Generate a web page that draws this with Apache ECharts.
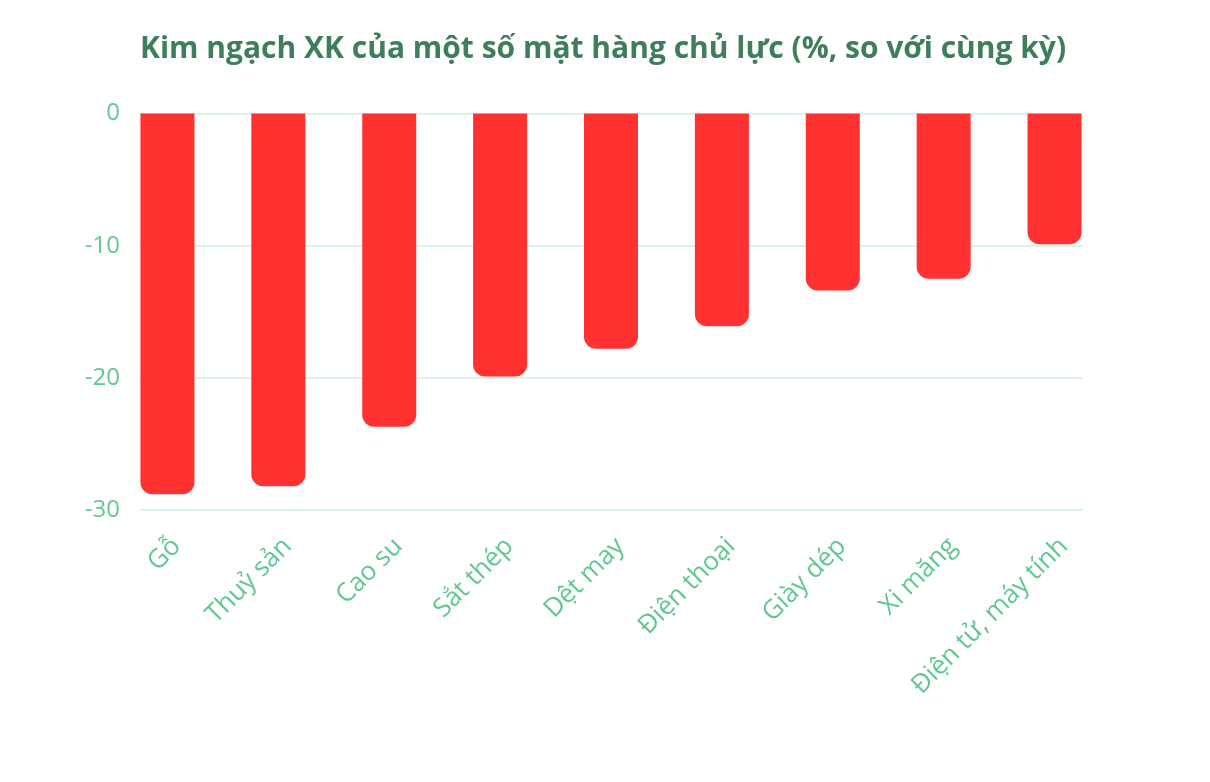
<!DOCTYPE html>
<html>
<head>
<meta charset="utf-8">
<script src="https://cdn.jsdelivr.net/npm/echarts@6/dist/echarts.min.js"></script>
<style>
  html, body { margin: 0; padding: 0; background: #ffffff; }
  #chart { width: 1210px; height: 782px; }
</style>
</head>
<body>
<div id="chart"></div>
<script>
// Mặt hàng xuất khẩu chủ lực
const categories = ['Gỗ', 'Thuỷ sản', 'Cao su', 'Sắt thép', 'Dệt may', 'Điện thoại', 'Giày dép', 'Xi măng', 'Điện tử, máy tính'];
// Thay đổi kim ngạch so với cùng kỳ (%)
const changes = [-28.8, -28.2, -23.7, -19.9, -17.8, -16.1, -13.4, -12.5, -9.9];
const yTicks = [0, -10, -20, -30];

const titleText = 'Kim ngạch XK của một số mặt hàng chủ lực (%, so với cùng kỳ)';
const green = '#5fc98f';
const font = 'Open Sans';

const chart = echarts.init(document.getElementById('chart'), null, { renderer: 'canvas' });

const yMin = Math.min(...yTicks);
const yMax = Math.max(...yTicks);

chart.setOption({
  backgroundColor: '#ffffff',
  animation: false,
  title: {
    text: titleText,
    left: 135,
    top: 29,
    textStyle: { color: '#3f7e5b', fontFamily: font, fontWeight: 'bold', fontSize: 30 }
  },
  grid: [
    // bars
    { left: 112, right: 100, top: 113.5, bottom: 272, containLabel: false },
    // value scale and gridlines
    { left: 140, right: 128, top: 113.5, bottom: 272, containLabel: false }
  ],
  xAxis: [
    {
      type: 'category', gridIndex: 0, data: categories,
      axisLine: { show: false }, axisTick: { show: false },
      axisLabel: {
        rotate: 45, color: green, fontFamily: font, fontSize: 26,
        margin: 23, interval: 0, verticalAlign: 'top'
      }
    },
    {
      type: 'category', gridIndex: 1, data: categories, show: false
    }
  ],
  yAxis: [
    {
      type: 'value', gridIndex: 0, min: yMin, max: yMax, interval: 10,
      show: false, splitLine: { show: false }
    },
    {
      type: 'value', gridIndex: 1, min: yMin, max: yMax, interval: 10,
      axisLine: { show: false }, axisTick: { show: false },
      axisLabel: { color: green, fontFamily: font, fontSize: 24, margin: 20 },
      splitLine: { lineStyle: { color: '#dcf3e7', width: 2 } }
    }
  ],
  series: [
    {
      type: 'bar',
      xAxisIndex: 0, yAxisIndex: 0,
      data: changes,
      barWidth: 54,
      itemStyle: { color: '#ff3131', borderRadius: [0, 0, 12, 12] },
      z: 3
    }
  ]
});
</script>
</body>
</html>
